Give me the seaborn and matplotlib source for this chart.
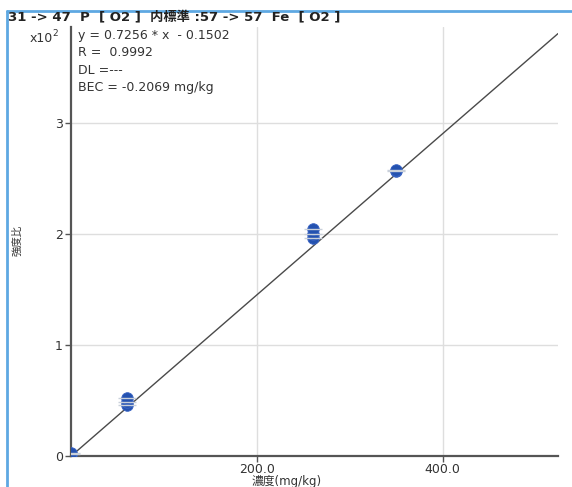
import matplotlib
matplotlib.use("Agg")
import matplotlib.pyplot as plt
from matplotlib.lines import Line2D
import seaborn as sns
import pandas as pd
import numpy as np

# ---- data ----
conc = [0, 0, 60, 60, 60, 260, 260, 260, 350, 350]          # 濃度 (mg/kg)
ratio = [0.02, 0.03, 0.46, 0.49, 0.52, 1.96, 2.00, 2.04, 2.56, 2.57]  # 強度比 (x10^2)
slope = 0.7256
intercept = -0.1502
x_ticks = [200, 400]
x_tick_labels = ["200.0", "400.0"]
y_ticks = [0, 1, 2, 3]
y_tick_labels = ["0", "1", "2", "3"]
title = "31 -> 47  P  [ O2 ]  内標準 :57 -> 57  Fe  [ O2 ]"
info_lines = ["y = 0.7256 * x  - 0.1502", "R =  0.9992", "DL =---", "BEC = -0.2069 mg/kg"]
xmax = 524
ymax = 3.86

sns.set_theme(style="white")
plt.rcParams['font.family'] = ['DejaVu Sans', 'Noto Sans CJK JP']

fig = plt.figure(figsize=(5.72, 4.87), dpi=100)
ax = fig.add_axes([71/572, 1-456/487, (558-71)/572, (456-27)/487])

df = pd.DataFrame({"conc": conc, "ratio": ratio})
fit_x = [0, xmax]
fit_df = pd.DataFrame({"x": fit_x, "y": [(slope*v + intercept)/100 for v in fit_x]})

sns.lineplot(data=fit_df, x="x", y="y", ax=ax, color="#4a4a4a", linewidth=1.0, zorder=3)
sns.scatterplot(data=df, x="conc", y="ratio", ax=ax, marker="o", s=70,
                color="#2452b0", edgecolor="#3a64c4", linewidth=0.6, zorder=4)
sns.scatterplot(data=df, x="conc", y="ratio", ax=ax, marker="_", s=160,
                color="#c9d0da", linewidth=1.0, zorder=5)

ax.set_xlim(0, xmax)
ax.set_ylim(0, ymax)
ax.set_xticks(x_ticks)
ax.set_xticklabels(x_tick_labels)
ax.set_yticks(y_ticks)
ax.set_yticklabels(y_tick_labels)
ax.grid(True, color="#dedede", linewidth=1.0)
ax.set_axisbelow(True)
for s in ["top", "right"]:
    ax.spines[s].set_visible(False)
for s in ["left", "bottom"]:
    ax.spines[s].set_color("#555555")
    ax.spines[s].set_linewidth(1.6)
ax.tick_params(axis="both", which="both", direction="out", length=4, width=1,
               color="#555555", labelsize=9, labelcolor="#333333", pad=2, left=True, bottom=True)
ax.tick_params(axis="x", pad=1)
ax.set_xlabel("")
ax.set_ylabel("")

fig.text(287/572, 1-481.5/487, "濃度(mg/kg)", ha="center", va="center",
         fontsize=8.5, color="#333333")
fig.text(17/572, 1-240/487, "強度比", rotation=90, ha="center", va="center",
         fontsize=7.5, color="#333333")
fig.text(8/572, 1-18/487, title, ha="left", va="center", fontsize=9.5,
         fontweight="bold", color="#222222")
fig.text(30/572, 1-38/487, "x10", ha="left", va="center", fontsize=9, color="#333333")
fig.text(52/572, 1-34/487, "2", ha="left", va="center", fontsize=6.5, color="#333333")
for i, line in enumerate(info_lines):
    fig.text(78/572, 1-(35 + i*17.5)/487, line, ha="left", va="center",
             fontsize=9, color="#333333")

# light blue window frame
fig.add_artist(Line2D([7/572, 1], [1-11/487, 1-11/487], transform=fig.transFigure,
                      color="#5ea8e2", linewidth=2))
fig.add_artist(Line2D([7/572, 7/572], [0, 1-11/487], transform=fig.transFigure,
                      color="#5ea8e2", linewidth=2))

fig.savefig("out.png", dpi=100)
